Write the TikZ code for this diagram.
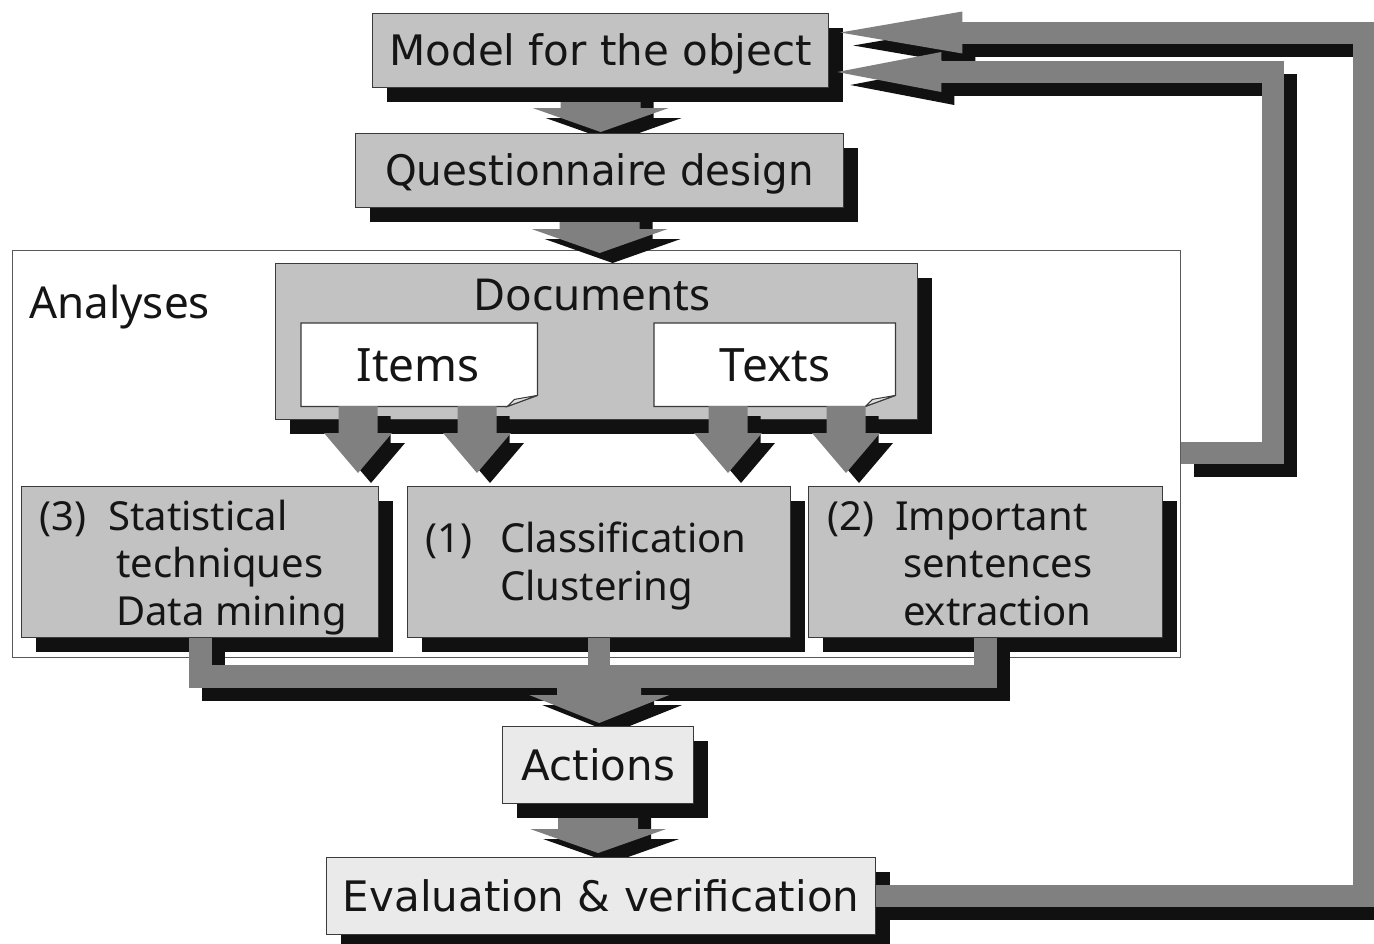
\documentclass[tikz,border=0pt]{standalone}
\usepackage{fontspec}
\newfontfamily\topf{DejaVu Sans}
\newfontfamily\lowf{Noto Sans}
\usetikzlibrary{calc,shadows}
\definecolor{boxg}{HTML}{C2C2C2}
\definecolor{lightb}{HTML}{EAEAEA}
\definecolor{arrg}{HTML}{808080}
\definecolor{shdc}{HTML}{111111}
\definecolor{txtc}{HTML}{151515}
\definecolor{edgec}{HTML}{3A3A3A}
\pgfdeclarelayer{bg}
\pgfdeclarelayer{lowarr}
\pgfdeclarelayer{toplay}
\pgfsetlayers{bg,lowarr,main,toplay}
% vertical block arrow: start, tip, shaft half width, head half width, head length, options
\newcommand\blkdown[6]{%
  \path[#6] let \p1=(#1), \p2=(#2) in
    (\x1-#3,\y1) -- (\x1+#3,\y1) -- (\x1+#3,\y2+#5) -- (\x1+#4,\y2+#5) --
    (\x1,\y2) -- (\x1-#4,\y2+#5) -- (\x1-#3,\y2+#5) -- cycle;}
% left-pointing head: tip, length, half width, options
\newcommand\blkleft[4]{%
  \path[#4] let \p1=(#1) in
    (\x1,\y1) -- (\x1+#2,\y1+#3) -- (\x1+#2,\y1-#3) -- cycle;}
\tikzset{
  sbox/.style={draw=edgec, line width=1.3pt, fill=boxg, anchor=north west,
    inner sep=0pt, text=txtc,
    drop shadow={shadow xshift=14pt, shadow yshift=-14pt, fill=shdc, opacity=1}},
  toptext/.style={font=\topf\fontsize{42}{50}\selectfont, text height=30.6pt, text depth=0pt},
  lowtxt/.style={font=\lowf\fontsize{40}{47}\selectfont, text=txtc, inner sep=0pt, anchor=base west},
  lblbig/.style={font=\lowf\fontsize{44}{50}\selectfont, text=txtc, inner sep=0pt},
  lblnote/.style={font=\lowf\fontsize{46}{52}\selectfont, text=txtc, inner sep=0pt, anchor=base},
  notebox/.style={anchor=north west, inner sep=0pt},
  noteline/.style={draw=edgec, line width=1.2pt, fill=white},
  flap/.style={draw=edgec, line width=1pt, fill=black!12},
  anaframe/.style={draw=black!65, line width=1.4pt, anchor=north west, inner sep=0pt},
  ashd/.style={fill=shdc, transform canvas={xshift=13pt,yshift=-10pt}},
  afill/.style={fill=arrg},
  bandshd/.style={draw=shdc, line width=22pt, line join=miter, transform canvas={xshift=13pt,yshift=-13pt}},
  band/.style={draw=arrg, line width=22pt, line join=miter},
}
\begin{document}
\begin{tikzpicture}[x=1pt,y=-1pt]
\useasboundingbox (0,0) rectangle (1374,943);

\begin{pgfonlayer}{bg}
\node[anaframe, minimum width=1168pt, minimum height=407pt] (ana) at (12,250) {};
\end{pgfonlayer}
\node[lblbig, anchor=base west] (anal) at (29,318) {Analyses};

% boxes
\node[sbox, toptext, minimum width=456pt, minimum height=74pt] (model) at (372,13) {Model for the object};
\node[sbox, toptext, minimum width=488pt, minimum height=74pt] (quest) at (355,133) {\scalebox{0.96}[1]{Questionnaire design}};
\node[sbox, minimum width=642pt, minimum height=156pt] (docs) at (275,263) {};
\node[lblbig, anchor=base] (docsl) at (592,310) {Documents};

\node[notebox, minimum width=236pt, minimum height=83pt] (items) at (301,323) {};
\draw[noteline] (items.north west) -- (items.north east) -- ([yshift=11pt]items.south east)
  -- ([xshift=-30pt]items.south east) -- (items.south west) -- cycle;
\draw[flap] ([xshift=-30pt]items.south east) -- ([xshift=-23pt,yshift=7pt]items.south east)
  -- ([yshift=11pt]items.south east) -- cycle;
\node[lblnote] (itemsl) at (418,381) {Items};

\node[notebox, minimum width=241pt, minimum height=83pt] (texts) at (654,323) {};
\draw[noteline] (texts.north west) -- (texts.north east) -- ([yshift=11pt]texts.south east)
  -- ([xshift=-30pt]texts.south east) -- (texts.south west) -- cycle;
\draw[flap] ([xshift=-30pt]texts.south east) -- ([xshift=-23pt,yshift=7pt]texts.south east)
  -- ([yshift=11pt]texts.south east) -- cycle;
\node[lblnote] (textsl) at (775,381) {Texts};

\node[sbox, minimum width=357pt, minimum height=151pt] (b3) at (21,486) {};
\node[lowtxt] (b3n) at (39,530) {(3)};
\node[lowtxt] (b3a) at (108,530) {Statistical};
\node[lowtxt] (b3b) at (116,577) {techniques};
\node[lowtxt] (b3c) at (116,625) {Data mining};

\node[sbox, minimum width=383pt, minimum height=151pt] (b1) at (407,486) {};
\node[lowtxt] (b1n) at (425,552) {(1)};
\node[lowtxt] (b1a) at (500,552) {Classification};
\node[lowtxt] (b1b) at (500,600) {Clustering};

\node[sbox, minimum width=354pt, minimum height=151pt] (b2) at (808,486) {};
\node[lowtxt] (b2n) at (827,530) {(2)};
\node[lowtxt] (b2a) at (895,530) {Important};
\node[lowtxt] (b2b) at (903,577) {sentences};
\node[lowtxt] (b2c) at (903,625) {extraction};

\node[sbox, fill=lightb, toptext, minimum width=191pt, minimum height=77pt] (act) at (502,726) {Actions};
\node[sbox, fill=lightb, toptext, minimum width=549pt, minimum height=77pt] (eval) at (326,857) {Evaluation \& verification};

% helper coordinates
\coordinate (ubar) at (0,676.5);
\coordinate (d1) at (358,406);
\coordinate (d2) at (477,406);
\coordinate (d3) at (728,406);
\coordinate (d4) at (846,406);
\coordinate (oc) at (1364,32.5);
\coordinate (ic) at (1273,72);
\coordinate (iy) at (0,452.5);
\coordinate (otip0) at (model.east |- oc);
\coordinate (otip) at ([xshift=11pt]otip0);
\coordinate (obase) at ([xshift=121pt]otip);
\coordinate (itip0) at (model.east |- ic);
\coordinate (itip) at ([xshift=8pt]itip0);
\coordinate (ibase) at ([xshift=103pt]itip);
\coordinate (istart) at (ana.east |- iy);

\begin{pgfonlayer}{lowarr}
\draw[bandshd, line width=23pt] (b3.south) -- (b3.south |- ubar) -- (b2.south |- ubar) -- (b2.south);
\blkdown{model.south}{[yshift=1pt]quest.north}{40pt}{68pt}{24pt}{ashd}
\blkdown{model.south}{[yshift=1pt]quest.north}{40pt}{68pt}{24pt}{afill}
\blkdown{quest.south}{[yshift=10pt]docs.north}{40pt}{68pt}{24pt}{ashd}
\blkdown{quest.south}{[yshift=10pt]docs.north}{40pt}{68pt}{24pt}{afill}
\blkdown{b1.south |- ubar}{[yshift=3pt]act.north}{42pt}{70pt}{28pt}{ashd}
\blkdown{b1.south |- ubar}{[yshift=3pt]act.north}{42pt}{70pt}{28pt}{afill}
\blkdown{act.south}{[yshift=4pt]eval.north}{40pt}{68pt}{24pt}{ashd}
\blkdown{act.south}{[yshift=4pt]eval.north}{40pt}{68pt}{24pt}{afill}
\end{pgfonlayer}

\begin{pgfonlayer}{toplay}
\blkdown{d1}{[yshift=13pt]b3.north}{19.5pt}{34pt}{40pt}{ashd}
\blkdown{d2}{[yshift=13pt]b1.north}{19.5pt}{34pt}{40pt}{ashd}
\blkdown{d3}{[yshift=13pt]b1.north}{19.5pt}{34pt}{40pt}{ashd}
\blkdown{d4}{[yshift=13pt]b2.north}{19.5pt}{34pt}{40pt}{ashd}
\blkdown{d1}{[yshift=13pt]b3.north}{19.5pt}{34pt}{40pt}{afill}
\blkdown{d2}{[yshift=13pt]b1.north}{19.5pt}{34pt}{40pt}{afill}
\blkdown{d3}{[yshift=13pt]b1.north}{19.5pt}{34pt}{40pt}{afill}
\blkdown{d4}{[yshift=13pt]b2.north}{19.5pt}{34pt}{40pt}{afill}

\draw[band, line width=23pt] (b3.south) -- (b3.south |- ubar) -- (b2.south |- ubar) -- (b2.south);
\draw[band] (b1.south) -- (b1.south |- ubar);

% feedback loops
\draw[bandshd] (eval.east) -| (oc) -- (obase);
\blkleft{otip}{122pt}{21pt}{fill=shdc, transform canvas={xshift=13pt,yshift=-13pt}}
\draw[bandshd] (istart) -| (ic) -- (ibase);
\blkleft{itip}{104pt}{20pt}{fill=shdc, transform canvas={xshift=13pt,yshift=-13pt}}
\draw[band] (eval.east) -| (oc) -- (obase);
\blkleft{otip}{122pt}{21pt}{afill}
\draw[band] (istart) -| (ic) -- (ibase);
\blkleft{itip}{104pt}{20pt}{afill}
\end{pgfonlayer}
\end{tikzpicture}
\end{document}
